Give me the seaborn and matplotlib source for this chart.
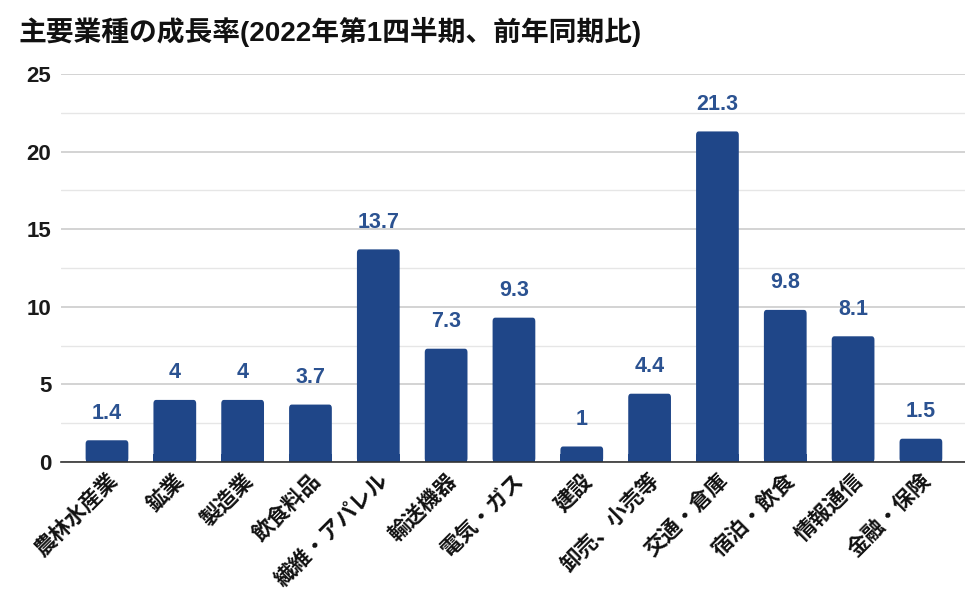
import matplotlib
matplotlib.use('Agg')
import matplotlib.pyplot as plt
import seaborn as sns
import pandas as pd
from matplotlib.patches import FancyBboxPatch

# data
industries = ['農林水産業', '鉱業', '製造業', '飲食料品', '繊維・アパレル', '輸送機器',
              '電気・ガス', '建設', '卸売、小売等', '交通・倉庫', '宿泊・飲食',
              '情報通信', '金融・保険']
growth = [1.4, 4, 4, 3.7, 13.7, 7.3, 9.3, 1, 4.4, 21.3, 9.8, 8.1, 1.5]
value_labels = ['1.4', '4', '4', '3.7', '13.7', '7.3', '9.3', '1', '4.4', '21.3', '9.8', '8.1', '1.5']
y_ticks = [0, 5, 10, 15, 20, 25]

title = '主要業種の成長率(2022年第1四半期、前年同期比)'
bar_color = '#1f4688'
label_color = '#2b5291'

sns.set_style('white')
plt.rcParams['font.family'] = ['Liberation Sans', 'Noto Sans CJK JP', 'DejaVu Sans']

df = pd.DataFrame({'industry': industries, 'growth': growth})

fig = plt.figure(figsize=(9.65, 5.94), dpi=100)
ax = fig.add_axes([61 / 965, 132 / 594, (965 - 61) / 965, 388 / 594])

sns.barplot(data=df, x='industry', y='growth', color=bar_color, width=0.63,
            saturation=1, ax=ax, zorder=3)

# rounded top corners on bars
for p in list(ax.patches):
    x, y = p.get_x(), p.get_y()
    w, h = p.get_width(), p.get_height()
    p.set_visible(False)
    rb = FancyBboxPatch((x, y), w, h, boxstyle='round,pad=0,rounding_size=0.04',
                        mutation_aspect=5.7,
                        facecolor=bar_color, edgecolor='none', zorder=3)
    ax.add_patch(rb)
    # square off the bottom corners
    ax.add_patch(plt.Rectangle((x, 0), w, min(h, 0.5), facecolor=bar_color,
                               edgecolor='none', zorder=3))

for i, (v, lab) in enumerate(zip(growth, value_labels)):
    ax.annotate(lab, (i, v), xytext=(0, 12), textcoords='offset points',
                ha='center', va='bottom', fontsize=15.5, fontweight='bold',
                color=label_color)

ax.set_xlim(-0.678, 12.65)
ax.set_ylim(0, 25)
ax.set_yticks(y_ticks)
ax.set_yticks([2.5, 7.5, 12.5, 17.5, 22.5], minor=True)
ax.grid(axis='y', which='major', color='#cccccc', linewidth=1.2, zorder=0)
ax.grid(axis='y', which='minor', color='#e6e6e6', linewidth=1.0, zorder=0)
ax.set_axisbelow(True)

for s in ['top', 'right', 'left']:
    ax.spines[s].set_visible(False)
ax.spines['bottom'].set_color('#333333')
ax.spines['bottom'].set_linewidth(1.2)
ax.spines['bottom'].set_zorder(4)

ax.tick_params(axis='y', which='both', length=0, pad=7, labelsize=16)
ax.tick_params(axis='x', length=0, pad=6, labelsize=15.5)
for t in ax.get_yticklabels():
    t.set_fontweight('bold')
    t.set_color('#1a1a1a')
ax.set_xticks(range(len(industries)))
ax.set_xticklabels(industries, rotation=45, ha='right', rotation_mode='anchor',
                   fontweight='bold', color='#111111')
ax.set_xlabel('')
ax.set_ylabel('')

fig.text(18 / 965, 1 - 32 / 594, title, fontsize=20, fontweight='bold',
         ha='left', va='center', color='#111111')

fig.savefig('out.png', dpi=100)
